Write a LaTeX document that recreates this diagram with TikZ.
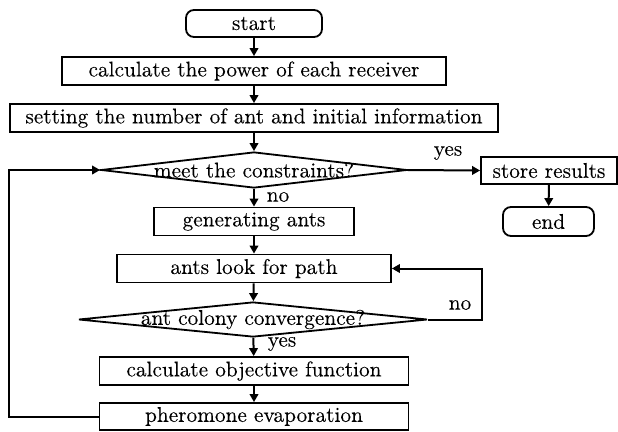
\documentclass[tikz,border=0pt]{standalone}
\usepackage{fontspec}
\setmainfont{lmroman10-regular.otf}[FakeStretch=1.0,FakeBold=0.1]
\usetikzlibrary{shapes.geometric,arrows.meta}
\begin{document}
\begin{tikzpicture}[x=1pt,y=-1pt,
  every node/.style={font=\fontsize{21.3}{24}\selectfont},
  box/.style={draw, line width=1.8pt, rectangle, inner sep=0pt, minimum height=28pt},
  term/.style={box, rounded corners=8pt},
  dia/.style={draw, line width=1.8pt, diamond, inner sep=0pt},
  arr/.style={line width=2pt, -{Triangle[length=8pt,width=8.5pt]}},
  lbl/.style={inner sep=0pt}]
\useasboundingbox (0,0) rectangle (618,431);
\node[term, minimum width=136pt, minimum height=27pt] (start) at (254,23.5) {start};
\node[box, minimum width=384pt] (power) at (254,71) {calculate the power of each receiver};
\node[box, minimum width=488pt] (set) at (254,118) {setting the number of ant and initial information};
\node[dia, minimum width=306pt, minimum height=36pt] (d1) at (254,170) {};
\node at (d1) {meet the constraints?};
\node[box, minimum width=200pt] (gen) at (254,221.5) {generating ants};
\node[box, minimum width=274pt] (look) at (254,268.5) {ants look for path};
\node[dia, minimum width=349pt, minimum height=35pt] (d2) at (253,319.5) {};
\node at (d2) {ant colony convergence?};
\node[box, minimum width=309pt] (obj) at (254,371) {calculate objective function};
\node[box, minimum width=309pt, minimum height=27pt] (pher) at (254,416.5) {pheromone evaporation};
\node[box, minimum width=136pt, minimum height=27pt] (store) at (549,170.5) {store results};
\node[term, minimum width=91pt, minimum height=29pt] (end) at (548.5,221.5) {end};
\coordinate (c1) at (482,319.5);
\coordinate (c2) at (482,268.5);
\coordinate (f1) at (9,416.5);
\coordinate (f2) at (9,170);
\draw[arr] (start) -- (power);
\draw[arr] (power) -- (set);
\draw[arr] (set) -- (d1);
\draw[arr] (d1) -- (gen);
\draw[arr] (gen) -- (look);
\draw[arr] (look) -- (d2);
\draw[arr] (d2) -- (obj);
\draw[arr] (obj) -- (pher);
\draw[arr] (d1.east) -- (store.west);
\draw[arr] (store) -- (end);
\draw[arr] (d2.east) -- (c1) -- (c2) -- (look.east);
\draw[arr] (pher.west) -- (f1) -- (f2) -- (d1.west);
\node[lbl] (no1) at (278,197) {no};
\node[lbl] (yes1) at (448,153) {yes};
\node[lbl] (no2) at (460,305) {no};
\node[lbl] (yes2) at (282,344) {yes};
\end{tikzpicture}
\end{document}
